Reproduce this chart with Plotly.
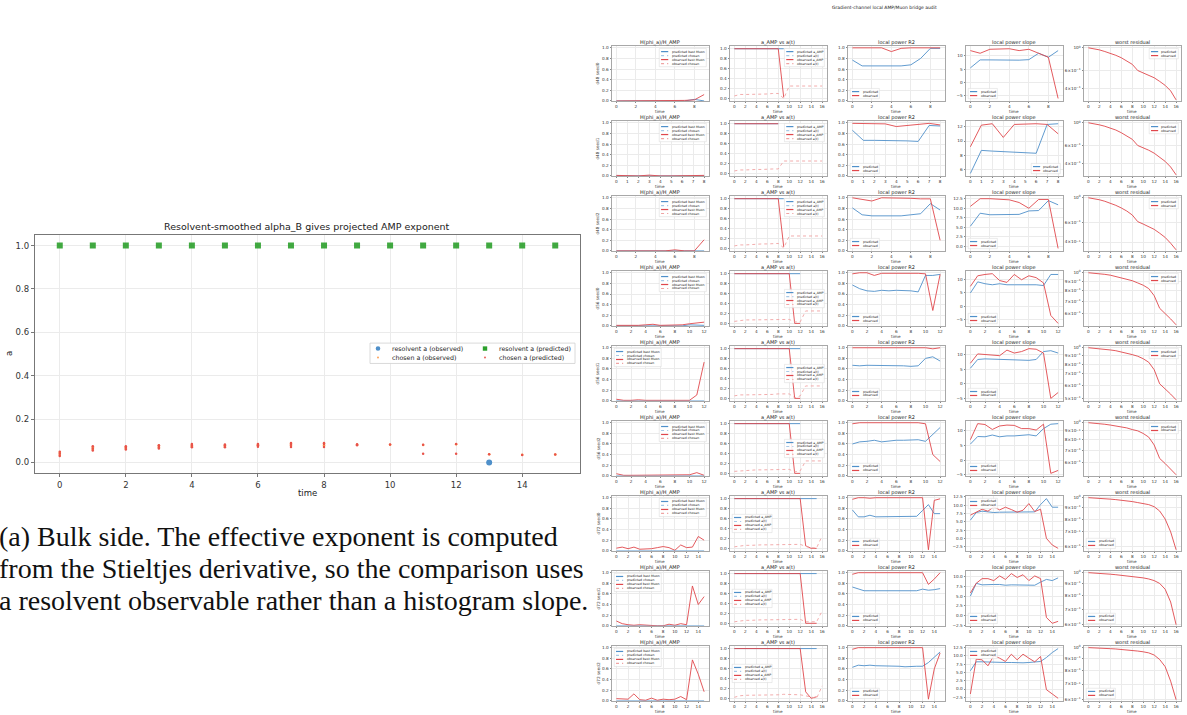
import math
import plotly.graph_objects as go

W, H = 1187, 715

# ---------------- left panel data ----------------
TIME = [0, 1, 2, 3, 4, 5, 6, 7, 8, 9, 10, 11, 12, 13, 14, 15]
RESOLVENT_PRED = [1.0, 1.0, 1.0, 1.0, 1.0, 1.0, 1.0, 1.0, 1.0, 1.0, 1.0, 1.0, 1.0, 1.0, 1.0, 1.0]
RESOLVENT_OBS_T = [13]
RESOLVENT_OBS = [0.0]
CHOSEN_PRED_T = [0, 0, 0, 1, 1, 1, 2, 2, 2, 3, 3, 3, 4, 4, 4, 5, 5, 5, 6, 6, 6, 7, 7, 7, 8, 8, 8,
                 9, 9, 10, 11, 11, 12, 12, 13, 14, 15]
CHOSEN_PRED = [0.030, 0.040, 0.050, 0.055, 0.065, 0.075, 0.060, 0.068, 0.075, 0.065, 0.073, 0.080,
               0.070, 0.078, 0.085, 0.070, 0.077, 0.083, 0.073, 0.080, 0.085, 0.072, 0.082, 0.090,
               0.072, 0.085, 0.090, 0.080, 0.084, 0.083, 0.040, 0.082, 0.040, 0.085, 0.038, 0.035, 0.037]
CHOSEN_OBS_T = [0, 0, 1, 1, 2, 2, 3, 3, 4, 4, 5, 5, 6, 6, 7, 7, 8, 8, 9, 10, 11, 12, 13, 14, 15]
CHOSEN_OBS = [0.035, 0.045, 0.060, 0.070, 0.065, 0.072, 0.070, 0.078, 0.075, 0.082, 0.074, 0.080,
              0.077, 0.083, 0.078, 0.088, 0.080, 0.088, 0.082, 0.082, 0.081, 0.084, 0.038, 0.036, 0.037]

# ---------------- right grid data ----------------
SUPTITLE = "Gradient-channel local AMP/Muon bridge audit"
ROW_LABELS = ["d48 seed0", "d48 seed1", "d48 seed2", "d56 seed0", "d56 seed1", "d56 seed2",
              "d72 seed0", "d72 seed1", "d72 seed2"]
PANEL_TITLES = ["H(phi_a)/H_AMP", "a_AMP vs a(t)", "local power R2", "local power slope", "worst residual"]

T8 = [0, 1, 2, 3, 4, 5, 6, 7, 8]
T9 = [0, 1, 2, 3, 4, 5, 6, 7, 8, 9]
T12 = [0, 1, 2, 3, 4, 5, 6, 7, 8, 9, 10, 11, 12]
T15 = [0, 1, 2, 3, 4, 5, 6, 7, 8, 9, 10, 11, 12, 13, 14, 15]
T16 = [0, 1, 2, 3, 4, 5, 6, 7, 8, 9, 10, 11, 12, 13, 14, 15, 16]
ROW_T = [T9, T8, T9, T12, T12, T12, T15, T15, T15]

# column 1: H(phi_a)/H_AMP
H_PRED = [
    [0.0, 0.0, 0.0, 0.0, 0.0, 0.0, 0.0, 0.0, 0.03, 0.0],
    [0.0, 0.0, 0.0, 0.0, 0.0, 0.0, 0.0, 0.0, 0.0],
    [0.0, 0.0, 0.0, 0.0, 0.0, 0.0, 0.0, 0.0, 0.0, 0.0],
    [0.0, 0.0, 0.0, 0.01, 0.01, 0.01, 0.0, 0.0, 0.0, 0.0, 0.02, 0.02, 0.01],
    [0.0, 0.0, 0.0, 0.0, 0.0, 0.0, 0.0, 0.0, 0.0, 0.0, 0.0, 0.0, 0.0],
    [0.0, 0.0, 0.0, 0.0, 0.0, 0.0, 0.0, 0.0, 0.0, 0.0, 0.0, 0.0, 0.0],
    [0.0, 0.0, 0.0, 0.01, 0.0, 0.0, 0.0, 0.0, 0.01, 0.0, 0.0, 0.0, 0.0, 0.0, 0.0, 0.0],
    [0.0, 0.0, 0.0, 0.0, 0.0, 0.0, 0.0, 0.0, 0.0, 0.0, 0.0, 0.0, 0.0, 0.0, 0.0, 0.0],
    [0.0, 0.0, 0.0, 0.0, 0.0, 0.0, 0.0, 0.0, 0.0, 0.0, 0.0, 0.0, 0.0, 0.0, 0.0, 0.0],
]
H_OBS = [
    [0.0, 0.0, 0.0, 0.0, 0.0, 0.0, 0.0, 0.01, 0.02, 0.12],
    [0.01, 0.01, 0.0, 0.015, 0.0, 0.0, 0.0, 0.0, 0.01],
    [0.0, 0.0, 0.0, 0.0, 0.0, 0.0, 0.02, 0.0, 0.0, 0.21],
    [0.01, 0.01, 0.0, 0.01, 0.02, 0.03, 0.01, 0.01, 0.01, 0.02, 0.04, 0.05, 0.07],
    [0.03, 0.01, 0.01, 0.02, 0.01, 0.01, 0.01, 0.0, 0.0, 0.0, 0.01, 0.11, 0.73],
    [0.04, 0.01, 0.01, 0.01, 0.01, 0.01, 0.01, 0.01, 0.02, 0.01, 0.02, 0.06, 0.01],
    [0.05, 0.07, 0.04, 0.07, 0.03, 0.03, 0.04, 0.06, 0.08, 0.06, 0.01, 0.11, 0.06, 0.07, 0.27, 0.20],
    [0.09, 0.04, 0.02, 0.01, 0.02, 0.01, 0.01, 0.0, 0.0, 0.03, 0.01, 0.04, 0.02, 0.75, 0.40, 0.55],
    [0.04, 0.03, 0.03, 0.13, 0.02, 0.01, 0.05, 0.01, 0.03, 0.02, 0.03, 0.08, 0.02, 0.77, 0.50, 0.17],
]

# column 2: a_AMP vs a(t)
AAMP_PRED = [
    [1.0, 1.0, 1.0, 1.0, 1.0, 1.0, 1.0, 1.0, 1.0, 1.0],
    [1.0, 1.0, 1.0, 1.0, 1.0, 1.0, 1.0, 1.0, 1.0],
    [1.0, 1.0, 1.0, 1.0, 1.0, 1.0, 1.0, 1.0, 1.0, 1.0],
    [1.0, 1.0, 1.0, 1.0, 1.0, 1.0, 1.0, 1.0, 1.0, 1.0, 1.0, 1.0, 1.0],
    [1.0, 1.0, 1.0, 1.0, 1.0, 1.0, 1.0, 1.0, 1.0, 1.0, 1.0, 1.0, 1.0],
    [1.0, 1.0, 1.0, 1.0, 1.0, 1.0, 1.0, 1.0, 1.0, 1.0, 1.0, 1.0, 1.0],
    [1.0, 1.0, 1.0, 1.0, 1.0, 1.0, 1.0, 1.0, 1.0, 1.0, 1.0, 1.0, 1.0, 1.0, 1.0, 1.0],
    [1.0, 1.0, 1.0, 1.0, 1.0, 1.0, 1.0, 1.0, 1.0, 1.0, 1.0, 1.0, 1.0, 1.0, 1.0, 1.0],
    [1.0, 1.0, 1.0, 1.0, 1.0, 1.0, 1.0, 1.0, 1.0, 1.0, 1.0, 1.0, 1.0, 1.0, 1.0, 1.0],
]
AAMP_OBS = [
    [1.0, 1.0, 1.0, 1.0, 1.0, 1.0, 1.0, 1.0, 1.0, 0.02],
    [1.0, 1.0, 1.0, 1.0, 1.0, 1.0, 1.0, 1.0, 1.0],
    [1.0, 1.0, 1.0, 1.0, 1.0, 1.0, 1.0, 1.0, 1.0, 0.03],
    [1.0, 1.0, 1.0, 1.0, 1.0, 1.0, 1.0, 1.0, 1.0, 1.0, 1.0, 0.0, 0.0],
    [1.0, 1.0, 1.0, 1.0, 1.0, 1.0, 1.0, 1.0, 1.0, 1.0, 1.0, 0.0, 0.0],
    [1.0, 1.0, 1.0, 1.0, 1.0, 1.0, 1.0, 1.0, 1.0, 1.0, 1.0, 0.0, 0.0],
    [1.0, 1.0, 1.0, 1.0, 1.0, 1.0, 1.0, 1.0, 1.0, 1.0, 1.0, 1.0, 1.0, 0.05, 0.0, 0.0],
    [1.0, 1.0, 1.0, 1.0, 1.0, 1.0, 1.0, 1.0, 1.0, 1.0, 1.0, 1.0, 1.0, 0.0, 0.0, 0.0],
    [1.0, 1.0, 1.0, 1.0, 1.0, 1.0, 1.0, 1.0, 1.0, 1.0, 1.0, 1.0, 1.0, 0.13, 0.0, 0.03],
]
AT_OBS = [
    [0.05, 0.08, 0.08, 0.08, 0.09, 0.09, 0.09, 0.10, 0.10, 0.0, 0.25, 0.25, 0.25, 0.25, 0.25, 0.25, 0.25],
    [0.05, 0.07, 0.07, 0.08, 0.08, 0.08, 0.09, 0.09, 0.09, 0.25, 0.25, 0.25, 0.25, 0.25, 0.25, 0.25, 0.25],
    [0.05, 0.07, 0.07, 0.08, 0.08, 0.09, 0.09, 0.10, 0.10, 0.01, 0.25, 0.25, 0.25, 0.25, 0.25, 0.25, 0.25],
    [0.04, 0.06, 0.07, 0.07, 0.07, 0.07, 0.08, 0.08, 0.08, 0.08, 0.08, 0.03, 0.03, 0.25, 0.25, 0.25, 0.25],
    [0.05, 0.07, 0.07, 0.07, 0.07, 0.07, 0.08, 0.08, 0.09, 0.09, 0.09, 0.01, 0.05, 0.25, 0.25, 0.25, 0.25],
    [0.04, 0.05, 0.06, 0.06, 0.07, 0.07, 0.07, 0.07, 0.08, 0.08, 0.08, 0.03, 0.05, 0.25, 0.25, 0.25, 0.25],
    [0.03, 0.05, 0.06, 0.06, 0.07, 0.07, 0.07, 0.07, 0.07, 0.07, 0.08, 0.08, 0.08, 0.04, 0.01, 0.01, 0.25],
    [0.03, 0.05, 0.06, 0.06, 0.07, 0.07, 0.07, 0.07, 0.08, 0.08, 0.08, 0.08, 0.08, 0.03, 0.03, 0.03, 0.25],
    [0.02, 0.05, 0.06, 0.06, 0.06, 0.06, 0.07, 0.07, 0.07, 0.08, 0.08, 0.08, 0.07, 0.05, 0.02, 0.0, 0.25],
]

# column 3: local power R2
R2_PRED = [
    [0.77, 0.66, 0.66, 0.66, 0.66, 0.66, 0.68, 0.80, 0.99, 0.99],
    [0.86, 0.67, 0.67, 0.67, 0.67, 0.66, 0.65, 0.95, 0.94],
    [0.81, 0.68, 0.66, 0.66, 0.66, 0.66, 0.68, 0.70, 0.89, 0.77],
    [0.77, 0.70, 0.66, 0.65, 0.67, 0.66, 0.67, 0.67, 0.66, 0.64, 0.95, 0.95, 0.97],
    [0.67, 0.66, 0.67, 0.67, 0.67, 0.66, 0.66, 0.66, 0.65, 0.66, 0.80, 0.83, 0.75],
    [0.60, 0.64, 0.65, 0.67, 0.64, 0.66, 0.67, 0.67, 0.67, 0.68, 0.65, 0.79, 0.91],
    [0.77, 0.64, 0.64, 0.67, 0.64, 0.64, 0.64, 0.65, 0.65, 0.65, 0.65, 0.65, 0.76, 0.87, 0.70, 0.70],
    [0.73, 0.69, 0.66, 0.66, 0.66, 0.66, 0.65, 0.66, 0.66, 0.65, 0.65, 0.66, 0.69, 0.67, 0.68, 0.70],
    [0.63, 0.67, 0.66, 0.67, 0.66, 0.66, 0.65, 0.65, 0.65, 0.64, 0.65, 0.65, 0.65, 0.72, 0.82, 0.92],
]
R2_OBS = [
    [1.0, 1.0, 1.0, 1.0, 0.93, 0.99, 1.0, 1.0, 1.0, 1.0],
    [0.99, 0.99, 0.99, 0.98, 0.93, 0.95, 0.96, 0.99, 0.96],
    [1.0, 0.97, 0.94, 1.0, 1.0, 1.0, 0.99, 0.98, 0.98, 0.20],
    [0.98, 1.0, 1.0, 0.95, 0.99, 0.99, 1.0, 1.0, 1.0, 0.99, 0.98, 0.29, 0.97],
    [1.0, 1.0, 1.0, 1.0, 1.0, 1.0, 1.0, 1.0, 1.0, 1.0, 1.0, 0.98, 1.0],
    [0.98, 1.0, 1.0, 1.0, 1.0, 1.0, 1.0, 1.0, 1.0, 1.0, 0.98, 0.40, 0.27],
    [0.97, 1.0, 1.0, 0.99, 1.0, 1.0, 1.0, 1.0, 1.0, 1.0, 1.0, 1.0, 1.0, 0.02, 0.95, 0.98],
    [0.97, 1.0, 1.0, 1.0, 1.0, 1.0, 1.0, 1.0, 1.0, 1.0, 1.0, 1.0, 1.0, 0.78, 0.88, 1.0],
    [0.97, 1.0, 1.0, 1.0, 1.0, 1.0, 1.0, 1.0, 1.0, 1.0, 1.0, 1.0, 1.0, 0.03, 0.60, 0.90],
]

# column 4: local power slope
SLOPE_PRED = [
    [5.5, 8.5, 8.5, 8.4, 8.3, 8.4, 8.6, 11.0, 9.5, 12.0],
    [5.5, 8.7, 8.6, 8.5, 8.5, 8.4, 8.3, 12.3, 12.4],
    [5.3, 8.7, 8.3, 8.3, 8.3, 8.4, 9.3, 9.4, 12.0, 10.9],
    [5.0, 9.2, 8.5, 8.1, 8.5, 8.1, 8.1, 8.1, 8.1, 8.1, 7.8, 12.0, 12.0],
    [5.3, 8.3, 8.5, 8.4, 8.4, 8.4, 8.1, 8.0, 8.0, 8.3, 11.0, 11.3, 10.5],
    [5.5, 8.1, 8.0, 8.6, 8.0, 8.3, 8.3, 8.4, 8.7, 8.3, 10.8, 12.3, 12.5],
    [5.5, 7.8, 8.2, 8.0, 7.8, 7.9, 7.9, 8.0, 7.9, 8.0, 8.0, 8.0, 10.2, 12.0, 9.4, 9.4],
    [5.0, 8.3, 7.9, 8.0, 8.0, 8.0, 7.8, 7.9, 7.9, 7.9, 7.8, 7.8, 8.6, 9.3, 9.0, 9.7],
    [5.5, 8.2, 8.2, 8.1, 8.0, 8.0, 8.0, 8.0, 7.9, 7.9, 8.0, 8.2, 8.3, 9.5, 11.0, 12.2],
]
SLOPE_OBS = [
    [12.0, 11.0, 12.5, 12.5, 12.7, 12.0, 12.5, 11.0, 9.5, -6.0],
    [9.2, 12.2, 12.4, 10.5, 12.3, 12.4, 12.4, 12.3, 11.0],
    [10.5, 12.5, 12.5, 12.3, 12.2, 11.5, 10.0, 12.3, 12.3, -0.5],
    [7.5, 11.5, 12.0, 12.3, 9.7, 9.0, 12.0, 10.0, 11.5, 10.8, 8.8, -3.5, -6.5],
    [7.0, 10.2, 10.0, 9.8, 9.6, 11.5, 10.5, 11.0, 12.0, 11.8, 10.5, -5.0, -3.0],
    [7.0, 12.5, 12.2, 10.5, 11.7, 12.0, 11.9, 10.8, 10.8, 10.3, 12.3, -4.5, -3.5],
    [7.0, 7.8, 8.8, 8.2, 9.5, 8.6, 9.4, 8.7, 7.9, 8.5, 10.5, 8.1, 8.8, 0.0, -2.0, -3.0],
    [5.8, 8.3, 9.5, 9.5, 9.0, 10.2, 9.3, 10.8, 9.8, 10.5, 9.0, 10.2, 9.5, -0.5, -2.0, -1.5],
    [-1.5, 9.0, 8.8, 7.0, 10.0, 9.3, 8.3, 10.5, 8.8, 10.5, 9.3, 8.2, 9.8, -0.2, -1.5, -2.8],
]
SLOPE_DTICK = [5, 2, 2.5, 5, 5, 5, 2.5, 2.5, 2.5]

# column 5: worst residual (log scale)
RESID_OBS = [
    [1.0, 0.98, 0.955, 0.92, 0.885, 0.845, 0.80, 0.75, 0.69, 0.60, 0.57, 0.54, 0.51, 0.47, 0.43, 0.38, 0.31],
    [1.0, 0.98, 0.955, 0.925, 0.89, 0.85, 0.80, 0.75, 0.69, 0.60, 0.57, 0.54, 0.505, 0.465, 0.42, 0.37, 0.31],
    [1.0, 0.985, 0.96, 0.93, 0.895, 0.855, 0.81, 0.76, 0.70, 0.61, 0.58, 0.55, 0.52, 0.48, 0.44, 0.39, 0.34],
    [1.0, 0.995, 0.99, 0.98, 0.97, 0.955, 0.94, 0.925, 0.905, 0.88, 0.855, 0.82, 0.75, 0.64, 0.60, 0.56, 0.52],
    [1.0, 0.995, 0.99, 0.98, 0.97, 0.96, 0.945, 0.93, 0.91, 0.89, 0.86, 0.82, 0.74, 0.61, 0.57, 0.53, 0.49],
    [1.0, 0.995, 0.99, 0.98, 0.97, 0.96, 0.95, 0.935, 0.915, 0.90, 0.87, 0.83, 0.75, 0.63, 0.59, 0.55, 0.51],
    [1.0, 0.998, 0.995, 0.99, 0.985, 0.98, 0.975, 0.97, 0.96, 0.95, 0.94, 0.93, 0.91, 0.87, 0.80, 0.70, 0.58],
    [1.0, 0.998, 0.995, 0.99, 0.985, 0.98, 0.975, 0.97, 0.965, 0.96, 0.95, 0.94, 0.925, 0.90, 0.85, 0.75, 0.60],
    [1.0, 0.999, 0.997, 0.995, 0.99, 0.987, 0.983, 0.978, 0.973, 0.967, 0.96, 0.95, 0.93, 0.89, 0.83, 0.72, 0.60],
]
RESID_TICKS = [
    [1.0, 0.6, 0.4], [1.0, 0.6, 0.4], [1.0, 0.6, 0.4],
    [1.0, 0.9, 0.8, 0.7, 0.6, 0.5], [1.0, 0.9, 0.8, 0.7, 0.6, 0.5], [1.0, 0.9, 0.8, 0.7, 0.6, 0.5],
    [1.0, 0.9, 0.8, 0.7, 0.6], [1.0, 0.9, 0.8, 0.7, 0.6], [1.0, 0.9, 0.8, 0.7, 0.6],
]

CAPTION = ["(a) Bulk side. The effective exponent is computed",
           "from the Stieltjes derivative, so the comparison uses",
           "a resolvent observable rather than a histogram slope."]

# ---------------- styling ----------------
BLUE = "#4f90ca"
RED = "#e0474c"
LRED = "#f0a3a3"
LBLUE = "#a9c9e6"
GRID = "#ebebeb"
FRAME = "#a8a8a8"
FONT = "DejaVu Sans"


def px(x):
    return x / W


def py(y):
    return 1 - y / H


def ann(text, x, y, size, color="#222", xanchor="center", yanchor="middle", **kw):
    d = dict(text=text, x=px(x), y=py(y), xref="paper", yref="paper", showarrow=False,
             xanchor=xanchor, yanchor=yanchor, font=dict(size=size, color=color), **kw)
    return d


fig = go.Figure()
layout = dict(width=W, height=H, margin=dict(l=0, r=0, t=0, b=0), paper_bgcolor="white",
              plot_bgcolor="white", showlegend=False, font=dict(family=FONT, color="#333"))
annotations = []
shapes = []

# ---------------- left chart ----------------
LX0, LX1, LY0, LY1 = 35, 580, 234, 474
layout["xaxis"] = dict(domain=[px(LX0), px(LX1)], anchor="y", range=[-0.75, 15.75],
                       tickvals=[0, 2, 4, 6, 8, 10, 12, 14], showgrid=True, gridcolor=GRID,
                       showline=True, mirror=True, linecolor="#777", linewidth=1.3, ticks="outside",
                       ticklen=3, tickcolor="#777", tickfont=dict(size=8.5, color="#333"), zeroline=False)
layout["yaxis"] = dict(domain=[py(LY1), py(LY0)], anchor="x", range=[-0.05, 1.05],
                       tickvals=[0, 0.2, 0.4, 0.6, 0.8, 1.0], tickformat=".1f", showgrid=True,
                       gridcolor=GRID, showline=True, mirror=True, linecolor="#777", linewidth=1.3,
                       ticks="outside", ticklen=3, tickcolor="#777", tickfont=dict(size=8.5, color="#333"),
                       zeroline=False)
fig.add_trace(go.Scatter(x=CHOSEN_OBS_T, y=CHOSEN_OBS, mode="markers", xaxis="x", yaxis="y",
                         marker=dict(color="#ff9a4a", size=2.5, line=dict(width=0))))
fig.add_trace(go.Scatter(x=CHOSEN_PRED_T, y=CHOSEN_PRED, mode="markers", xaxis="x", yaxis="y",
                         marker=dict(color="#e8534a", size=2.5, line=dict(width=0))))
fig.add_trace(go.Scatter(x=TIME, y=RESOLVENT_PRED, mode="markers", xaxis="x", yaxis="y",
                         marker=dict(color="#2ca02c", symbol="square", size=6, opacity=0.9,
                                     line=dict(width=0))))
fig.add_trace(go.Scatter(x=RESOLVENT_OBS_T, y=RESOLVENT_OBS, mode="markers", xaxis="x", yaxis="y",
                         marker=dict(color="#4f90ca", size=6, line=dict(width=0))))

annotations.append(ann("Resolvent-smoothed alpha_B gives projected AMP exponent", (LX0 + LX1) / 2, 226, 9.5))
annotations.append(ann("time", (LX0 + LX1) / 2, 494, 8.5))
annotations.append(ann("a", 9, (LY0 + LY1) / 2, 8.5, textangle=-90))

# left legend (drawn manually)
shapes.append(dict(type="rect", xref="paper", yref="paper", x0=px(370), x1=px(575), y0=py(363.5), y1=py(343),
                   fillcolor="rgba(255,255,255,0.9)", line=dict(color="#d0d0d0", width=0.8), layer="above"))
leg_items = [(378, 348.5, "resolvent a (observed)", "circle", "#4f90ca", 2.3),
             (378, 357.5, "chosen a (observed)", "circle", "#ff9a4a", 0.9),
             (485, 348.5, "resolvent a (predicted)", "square", "#2ca02c", 2.2),
             (485, 357.5, "chosen a (predicted)", "circle", "#e8534a", 0.9)]
for (mx, my, lab, sym, col, r) in leg_items:
    shapes.append(dict(type="circle" if sym == "circle" else "rect", xref="paper", yref="paper",
                       x0=px(mx - r), x1=px(mx + r), y0=py(my + r), y1=py(my - r), fillcolor=col,
                       line=dict(width=0), layer="above"))
    annotations.append(ann(lab, mx + 12, my, 6.3, xanchor="left"))

# caption
for i, line in enumerate(CAPTION):
    d = ann(line, -3, 538 + 32 * i, 28, color="#111", xanchor="left")
    d["font"]["family"] = "Liberation Serif"
    annotations.append(d)

# ---------------- right grid ----------------
annotations.append(ann(SUPTITLE, 884, 6, 4.5))

COL_X0 = [612, 730, 848, 966, 1084]
COL_W = 96.5
ROW_Y0 = [44.5 + 75.4 * r for r in range(9)]
ROW_H = 55

LEG_LOC = [
    ["ur", "ur", "ll", "ll", "ur"],
    ["ur", "ur", "ll", "lr", "ur"],
    ["ur", "ur", "ll", "ll", "ur"],
    ["ur", "cr", "ll", "ll", "ur"],
    ["ul", "cr", "ll", "ll", "ur"],
    ["ur", "cr", "ll", "ll", "ur"],
    ["ur", "cl", "ll", "ul", "ll"],
    ["ul", "cl", "ll", "ll", "ll"],
    ["ul", "cl", "ll", "ul", "ll"],
]
LEG_ENTRIES = [
    [("predicted best Muon", BLUE, "solid"), ("predicted chosen", LBLUE, "dash"),
     ("observed best Muon", RED, "solid"), ("observed chosen", LRED, "dash")],
    [("predicted a_AMP", BLUE, "solid"), ("predicted a(t)", LBLUE, "dash"),
     ("observed a_AMP", RED, "solid"), ("observed a(t)", LRED, "dash")],
    [("predicted", BLUE, "solid"), ("observed", RED, "solid")],
    [("predicted", BLUE, "solid"), ("observed", RED, "solid")],
    [("predicted", BLUE, "solid"), ("observed", RED, "solid")],
]


def draw_legend(x0, y0, x1, y1, loc, entries):
    fs = 3.2
    row_h = 4.0
    maxc = max(len(e[0]) for e in entries)
    bw = 11 + maxc * fs * 0.56 + 2
    bh = len(entries) * row_h + 2.4
    pad = 2.2
    if loc[1] == "r":
        lx1 = x1 - pad
        lx0 = lx1 - bw
    else:
        lx0 = x0 + pad
        lx1 = lx0 + bw
    if loc[0] == "u":
        ly0 = y0 + pad
    elif loc[0] == "l":
        ly0 = y1 - pad - bh
    else:
        ly0 = (y0 + y1) / 2 - bh / 2
    ly1 = ly0 + bh
    shapes.append(dict(type="rect", xref="paper", yref="paper", x0=px(lx0), x1=px(lx1), y0=py(ly1),
                       y1=py(ly0), fillcolor="rgba(255,255,255,0.85)", line=dict(color="#d6d6d6", width=0.5),
                       layer="above"))
    for i, (lab, col, dash) in enumerate(entries):
        yy = ly0 + 1.2 + (i + 0.5) * row_h
        shapes.append(dict(type="line", xref="paper", yref="paper", x0=px(lx0 + 1.8), x1=px(lx0 + 9),
                           y0=py(yy), y1=py(yy),
                           line=dict(color=col, width=1.2, dash="dot" if dash == "dash" else "solid"),
                           layer="above"))
        annotations.append(ann(lab, lx0 + 10.3, yy, fs, xanchor="left"))


def pad_range(vals, frac=0.05):
    lo, hi = min(vals), max(vals)
    span = (hi - lo) if hi > lo else 1.0
    return [lo - frac * span, hi + frac * span]


TICKFONT = dict(size=4.2, color="#333")

for r in range(9):
    for c in range(5):
        k = 2 + r * 5 + c
        xa, ya = f"xaxis{k}", f"yaxis{k}"
        xr, yr = f"x{k}", f"y{k}"
        x0 = COL_X0[c]
        x1 = x0 + COL_W
        y0 = ROW_Y0[r]
        y1 = y0 + ROW_H
        t = ROW_T[r] if c in (0, 2, 3) else T16
        xrange = pad_range(t)
        dt = 1 if (len(t) == 9) else 2
        common = dict(showgrid=True, gridcolor=GRID, gridwidth=0.6, showline=True, mirror=True,
                      linecolor=FRAME, linewidth=1, ticks="outside", ticklen=1.5, tickwidth=0.6,
                      tickcolor="#888", tickfont=TICKFONT, zeroline=False)
        layout[xa] = dict(domain=[px(x0), px(x1)], anchor=yr, range=xrange,
                          tickvals=[v for v in t if v % dt == 0], **common)
        if c == 0:
            fig.add_trace(go.Scatter(x=t, y=H_PRED[r], mode="lines", xaxis=xr, yaxis=yr,
                                     line=dict(color=BLUE, width=0.9)))
            fig.add_trace(go.Scatter(x=t, y=H_OBS[r], mode="lines", xaxis=xr, yaxis=yr,
                                     line=dict(color=RED, width=0.9)))
            layout[ya] = dict(domain=[py(y1), py(y0)], anchor=xr, range=[0, 1.03],
                              tickvals=[0, 0.2, 0.4, 0.6, 0.8, 1.0], tickformat=".1f", **common)
        elif c == 1:
            fig.add_trace(go.Scatter(x=T16[:len(AAMP_PRED[r])], y=AAMP_PRED[r], mode="lines", xaxis=xr,
                                     yaxis=yr, line=dict(color=BLUE, width=0.9)))
            fig.add_trace(go.Scatter(x=T16[:len(AAMP_OBS[r])], y=AAMP_OBS[r], mode="lines", xaxis=xr,
                                     yaxis=yr, line=dict(color=RED, width=0.9)))
            fig.add_trace(go.Scatter(x=T16, y=AT_OBS[r], mode="lines", xaxis=xr, yaxis=yr,
                                     line=dict(color=LRED, width=0.9, dash="dot")))
            layout[ya] = dict(domain=[py(y1), py(y0)], anchor=xr, range=[-0.05, 1.05],
                              tickvals=[0, 0.2, 0.4, 0.6, 0.8, 1.0], tickformat=".1f", **common)
        elif c == 2:
            fig.add_trace(go.Scatter(x=t, y=R2_PRED[r], mode="lines", xaxis=xr, yaxis=yr,
                                     line=dict(color=BLUE, width=0.9)))
            fig.add_trace(go.Scatter(x=t, y=R2_OBS[r], mode="lines", xaxis=xr, yaxis=yr,
                                     line=dict(color=RED, width=0.9)))
            layout[ya] = dict(domain=[py(y1), py(y0)], anchor=xr, range=[0, 1.03],
                              tickvals=[0, 0.2, 0.4, 0.6, 0.8, 1.0], tickformat=".1f", **common)
        elif c == 3:
            fig.add_trace(go.Scatter(x=t, y=SLOPE_PRED[r], mode="lines", xaxis=xr, yaxis=yr,
                                     line=dict(color=BLUE, width=0.9)))
            fig.add_trace(go.Scatter(x=t, y=SLOPE_OBS[r], mode="lines", xaxis=xr, yaxis=yr,
                                     line=dict(color=RED, width=0.9)))
            yrg = pad_range(SLOPE_PRED[r] + SLOPE_OBS[r])
            d = SLOPE_DTICK[r]
            layout[ya] = dict(domain=[py(y1), py(y0)], anchor=xr, range=yrg, dtick=d, tick0=0,
                              tickformat=".1f" if d == 2.5 else "d", **common)
        else:
            fig.add_trace(go.Scatter(x=T16, y=RESID_OBS[r], mode="lines", xaxis=xr, yaxis=yr,
                                     line=dict(color=RED, width=0.9)))
            lo = math.log10(min(RESID_OBS[r]))
            span = -lo
            tv = RESID_TICKS[r]
            tt = ["10<sup>0</sup>" if v == 1.0 else f"{int(round(v * 10))}×10<sup>−1</sup>" for v in tv]
            layout[ya] = dict(domain=[py(y1), py(y0)], anchor=xr, type="log",
                              range=[lo - 0.02 * span, 0.03 * span], tickvals=tv, ticktext=tt, **common)
        # titles and labels
        annotations.append(ann(PANEL_TITLES[c], (x0 + x1) / 2, y0 - 4, 5))
        annotations.append(ann("time", (x0 + x1) / 2, y1 + 11, 4.2, color="#333"))
        if c == 0:
            annotations.append(ann(ROW_LABELS[r], x0 - 14, (y0 + y1) / 2, 4.2, color="#333", textangle=-90))
        draw_legend(x0, y0, x1, y1, LEG_LOC[r][c], LEG_ENTRIES[c])

layout["annotations"] = annotations
layout["shapes"] = shapes
fig.update_layout(**layout)
fig.write_html("out.html")
